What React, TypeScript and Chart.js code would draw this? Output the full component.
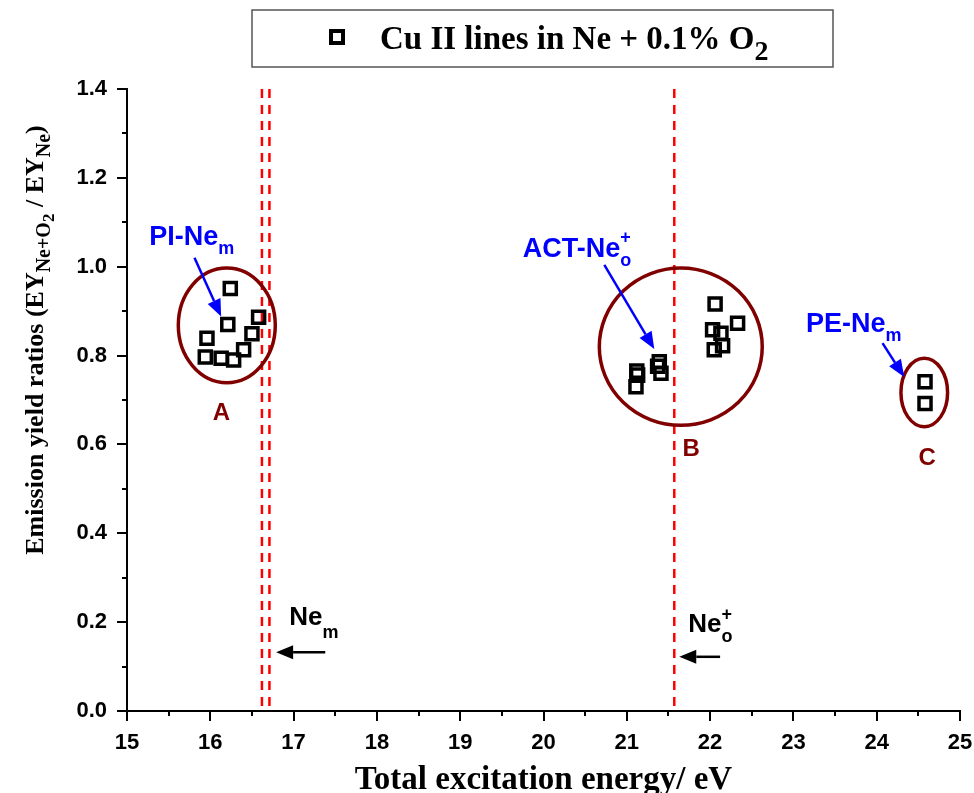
import React, { useEffect, useRef } from 'react';
import { Chart, registerables } from 'chart.js';
Chart.register(...registerables);

// ---- data ----
const energyA = [16.24, 16.21, 16.58, 15.96, 16.5, 15.94, 16.13, 16.28, 16.4];
const ratioA = [0.951, 0.87, 0.886, 0.839, 0.849, 0.797, 0.794, 0.79, 0.813];
const energyB = [22.06, 22.33, 22.03, 22.13, 22.15, 22.05, 21.37, 21.39, 21.41, 21.13, 21.11, 21.12];
const ratioB = [0.916, 0.873, 0.858, 0.85, 0.822, 0.813, 0.776, 0.786, 0.76, 0.756, 0.73, 0.765];
const energyC = [24.58, 24.58];
const ratioC = [0.741, 0.692];
const refLinesNem = [16.62, 16.71];
const refLinesNeo = [21.57];
const seriesLabel = 'Cu II lines in Ne + 0.1% O';
const xMin = 15, xMax = 25, xStep = 1;
const yMin = 0, yMax = 1.4, yStep = 0.2;

const allX = [...energyA, ...energyB, ...energyC];
const allY = [...ratioA, ...ratioB, ...ratioC];

type Seg = { t: string; size: number; dy: number; stack?: boolean };

function drawSegs(ctx: CanvasRenderingContext2D, segs: Seg[], x: number, y: number, align: 'left' | 'center', family: string, color: string) {
  let total = 0;
  for (const s of segs) {
    ctx.font = `bold ${s.size}px ${family}`;
    if (!s.stack) total += ctx.measureText(s.t).width;
  }
  let cx = align === 'center' ? x - total / 2 : x;
  ctx.fillStyle = color;
  ctx.textAlign = 'left';
  ctx.textBaseline = 'alphabetic';
  for (const s of segs) {
    ctx.font = `bold ${s.size}px ${family}`;
    ctx.fillText(s.t, cx, y + s.dy);
    if (!s.stack) cx += ctx.measureText(s.t).width;
  }
}

function arrow(ctx: CanvasRenderingContext2D, x1: number, y1: number, x2: number, y2: number, color: string, lw: number, hl: number, hw: number) {
  const a = Math.atan2(y2 - y1, x2 - x1);
  const bx = x2 - hl * Math.cos(a), by = y2 - hl * Math.sin(a);
  ctx.strokeStyle = color;
  ctx.lineWidth = lw;
  ctx.beginPath();
  ctx.moveTo(x1, y1);
  ctx.lineTo(bx, by);
  ctx.stroke();
  ctx.fillStyle = color;
  ctx.beginPath();
  ctx.moveTo(x2, y2);
  ctx.lineTo(bx + (hw / 2) * Math.sin(a), by - (hw / 2) * Math.cos(a));
  ctx.lineTo(bx - (hw / 2) * Math.sin(a), by + (hw / 2) * Math.cos(a));
  ctx.closePath();
  ctx.fill();
}

const SANS = '"Liberation Sans", Arial, sans-serif';
const SERIF = '"Liberation Serif", "Times New Roman", serif';
const DARKRED = '#800000';
const BLUE = '#0000ff';

const decorPlugin = {
  id: 'decor',
  beforeDatasetsDraw(chart: any) {
    const ctx: CanvasRenderingContext2D = chart.ctx;
    const xs = chart.scales.x, ys = chart.scales.y;
    const ca = chart.chartArea;
    ctx.save();
    ctx.strokeStyle = '#ff0000';
    ctx.lineWidth = 2.5;
    ctx.setLineDash([9, 7]);
    for (const v of [...refLinesNem, ...refLinesNeo]) {
      const px = xs.getPixelForValue(v);
      ctx.beginPath();
      ctx.moveTo(px, ca.top);
      ctx.lineTo(px, ca.bottom);
      ctx.stroke();
    }
    ctx.setLineDash([]);
    const ells = [
      [16.198, 0.868, 0.582, 0.129],
      [21.648, 0.82, 0.978, 0.177],
      [24.571, 0.717, 0.28, 0.077],
    ];
    ctx.strokeStyle = DARKRED;
    ctx.lineWidth = 3.5;
    for (const [cx, cy, rx, ry] of ells) {
      const px = xs.getPixelForValue(cx), py = ys.getPixelForValue(cy);
      const prx = Math.abs(xs.getPixelForValue(cx + rx) - px);
      const pry = Math.abs(ys.getPixelForValue(cy + ry) - py);
      ctx.beginPath();
      ctx.ellipse(px, py, prx, pry, 0, 0, Math.PI * 2);
      ctx.stroke();
    }
    ctx.restore();
  },
  afterDraw(chart: any) {
    const ctx: CanvasRenderingContext2D = chart.ctx;
    const xs = chart.scales.x, ys = chart.scales.y;
    const ca = chart.chartArea;
    const X = (v: number) => xs.getPixelForValue(v);
    const Y = (v: number) => ys.getPixelForValue(v);
    ctx.save();
    // minor ticks
    ctx.strokeStyle = '#000';
    ctx.lineWidth = 2;
    for (let v = yMin + yStep / 2; v < yMax; v += yStep) {
      const py = Math.round(Y(v));
      ctx.beginPath();
      ctx.moveTo(ca.left - 5, py);
      ctx.lineTo(ca.left, py);
      ctx.stroke();
    }
    for (let v = xMin + xStep / 2; v < xMax; v += xStep) {
      const px = Math.round(X(v));
      ctx.beginPath();
      ctx.moveTo(px, ca.bottom);
      ctx.lineTo(px, ca.bottom + 5);
      ctx.stroke();
    }
    // cluster letters
    ctx.fillStyle = DARKRED;
    ctx.font = `bold 24px ${SANS}`;
    ctx.textAlign = 'center';
    ctx.textBaseline = 'alphabetic';
    ctx.fillText('A', X(16.132), Y(0.654));
    ctx.fillText('B', X(21.773), Y(0.573));
    ctx.fillText('C', X(24.607), Y(0.553));
    // blue labels
    drawSegs(ctx, [{ t: 'PI-Ne', size: 27, dy: 0 }, { t: 'm', size: 18, dy: 9 }], X(15.268), Y(1.049), 'left', SANS, BLUE);
    drawSegs(ctx, [{ t: 'ACT-Ne', size: 27, dy: 0 }, { t: '+', size: 18, dy: -14, stack: true }, { t: 'o', size: 18, dy: 9 }], X(19.75), Y(1.022), 'left', SANS, BLUE);
    drawSegs(ctx, [{ t: 'PE-Ne', size: 27, dy: 0 }, { t: 'm', size: 18, dy: 9 }], X(23.15), Y(0.853), 'left', SANS, BLUE);
    arrow(ctx, X(15.81), Y(1.02), X(16.13), Y(0.888), BLUE, 2.5, 17, 14);
    arrow(ctx, X(20.73), Y(1.004), X(21.33), Y(0.815), BLUE, 2.5, 17, 14);
    arrow(ctx, X(24.07), Y(0.828), X(24.33), Y(0.752), BLUE, 2.5, 17, 14);
    // black labels
    drawSegs(ctx, [{ t: 'Ne', size: 26, dy: 0 }, { t: 'm', size: 18, dy: 13 }], X(16.948), Y(0.194), 'left', SANS, '#000');
    drawSegs(ctx, [{ t: 'Ne', size: 26, dy: 0 }, { t: '+', size: 18, dy: -12, stack: true }, { t: 'o', size: 18, dy: 10 }], X(21.738), Y(0.178), 'left', SANS, '#000');
    arrow(ctx, X(17.38), Y(0.132), X(16.79), Y(0.132), '#000', 2.5, 17, 14);
    arrow(ctx, X(22.12), Y(0.122), X(21.63), Y(0.122), '#000', 2.5, 17, 14);
    // legend box
    ctx.strokeStyle = '#555';
    ctx.lineWidth = 1.5;
    ctx.strokeRect(252, 10, 581, 57);
    ctx.strokeStyle = '#000';
    ctx.lineWidth = 4;
    ctx.strokeRect(331, 31, 12, 12);
    drawSegs(ctx, [{ t: seriesLabel, size: 33, dy: 0 }, { t: '2', size: 28, dy: 11 }], 380, 49, 'left', SERIF, '#000');
    // axis titles
    drawSegs(ctx, [{ t: 'Total excitation energy/ eV', size: 33, dy: 0 }], (ca.left + ca.right) / 2, 789, 'center', SERIF, '#000');
    ctx.translate(43, 340);
    ctx.rotate(-Math.PI / 2);
    drawSegs(ctx, [
      { t: 'Emission yield ratios (EY', size: 26, dy: 0 },
      { t: 'Ne+O', size: 20, dy: 7 },
      { t: '2', size: 17, dy: 11 },
      { t: ' / EY', size: 26, dy: 0 },
      { t: 'Ne', size: 20, dy: 7 },
      { t: ')', size: 26, dy: 0 },
    ], 0, 0, 'center', SERIF, '#000');
    ctx.restore();
  },
};

export default function App() {
  const ref = useRef<HTMLCanvasElement>(null);
  useEffect(() => {
    if (!ref.current) return;
    const chart = new Chart(ref.current, {
      type: 'scatter',
      data: {
        datasets: [
          {
            label: seriesLabel + '2',
            data: allX.map((x, i) => ({ x, y: allY[i] })),
            pointStyle: 'rect',
            radius: 8.5,
            borderWidth: 3.5,
            borderColor: '#000',
            backgroundColor: 'rgba(0,0,0,0)',
          },
        ],
      },
      options: {
        responsive: false,
        animation: false,
        devicePixelRatio: 1,
        layout: { padding: { top: 89, right: 14, left: 0, bottom: 0 } },
        plugins: { legend: { display: false }, tooltip: { enabled: false } },
        scales: {
          x: {
            type: 'linear',
            min: xMin,
            max: xMax,
            ticks: {
              stepSize: xStep,
              color: '#000',
              font: { family: SANS, size: 22, weight: 'bold' },
              padding: 9,
              maxRotation: 0,
              callback: (v: any) => String(v),
            },
            grid: { drawOnChartArea: false, drawTicks: true, tickLength: 10, color: '#000', lineWidth: 2 },
            border: { display: true, color: '#000', width: 2 },
            afterFit: (s: any) => { s.height = 82; s.paddingLeft = 0; s.paddingRight = 0; },
          },
          y: {
            type: 'linear',
            min: yMin,
            max: yMax,
            ticks: {
              stepSize: yStep,
              color: '#000',
              font: { family: SANS, size: 22, weight: 'bold' },
              padding: 10,
              callback: (v: any) => Number(v).toFixed(1),
            },
            grid: { drawOnChartArea: false, drawTicks: true, tickLength: 10, color: '#000', lineWidth: 2 },
            border: { display: true, color: '#000', width: 2 },
            afterFit: (s: any) => { s.width = 127; s.paddingTop = 0; s.paddingBottom = 0; },
          },
        },
      },
      plugins: [decorPlugin],
    } as any);
    return () => chart.destroy();
  }, []);
  return (
    <div style={{ position: 'fixed', left: 0, top: 0, width: 974, height: 793, background: '#fff' }}>
      <canvas ref={ref} width={974} height={793} />
    </div>
  );
}
